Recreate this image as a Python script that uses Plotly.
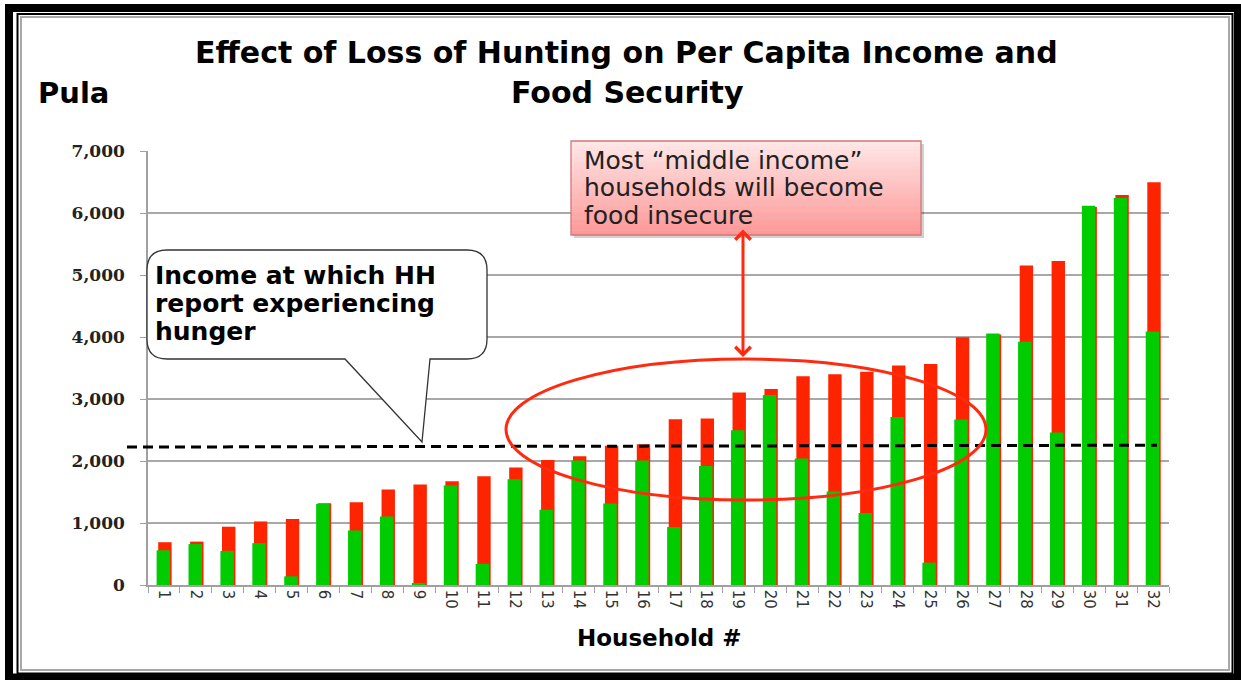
import plotly.graph_objects as go

# ---------------- data ----------------
households = [str(i) for i in range(1, 33)]
income_with_hunting = [690, 700, 940, 1025, 1065, 1320, 1335, 1540, 1620, 1675,
                       1755, 1895, 2015, 2075, 2245, 2270, 2675, 2685, 3105, 3160,
                       3365, 3400, 3440, 3540, 3565, 3995, 4040, 5155, 5225, 6095,
                       6290, 6495]
income_without_hunting = [560, 660, 550, 675, 140, 1305, 880, 1105, 20, 1605,
                          340, 1705, 1215, 2010, 1315, 2010, 935, 1920, 2495, 3065,
                          2040, 1510, 1160, 2710, 360, 2670, 4055, 3925, 2460, 6115,
                          6240, 4090]
y_ticks = [0, 1000, 2000, 3000, 4000, 5000, 6000, 7000]
y_tick_labels = ["0", "1,000", "2,000", "3,000", "4,000", "5,000", "6,000", "7,000"]
hunger_level_left = 2225
hunger_level_right = 2255

# ---------------- geometry helpers (pixels -> paper) ----------------
W, H = 1241, 680
L, R, T, B = 148, 1169, 151, 585


def px(x):
    return (x - L) / (R - L)


def py(y):
    return (B - y) / (B - T)


def P(x, y):
    return f"{px(x):.5f},{py(y):.5f}"


RED = "#FF2400"
GREEN = "#00CC00"

fig = go.Figure()
fig.add_trace(go.Bar(x=households, y=income_with_hunting, marker_color=RED,
                     marker_line_width=0, width=0.42, offset=-0.18,
                     name="With hunting", showlegend=False))
fig.add_trace(go.Bar(x=households, y=income_without_hunting, marker_color=GREEN,
                     marker_line_width=0, width=0.42, offset=-0.23,
                     name="Without hunting", showlegend=False))

shapes = []
annotations = []

# hunger threshold dashed line
shapes.append(dict(type="line", xref="paper", yref="y",
                   x0=px(127), x1=px(1157), y0=hunger_level_left, y1=hunger_level_right,
                   line=dict(color="black", width=3, dash="10px,6px"), layer="above"))

# ellipse
shapes.append(dict(type="circle", xref="paper", yref="paper",
                   x0=px(506), x1=px(986), y0=py(500), y1=py(359),
                   line=dict(color="#FF2A10", width=3), layer="above"))

# speech bubble
bl, br, bt, bb, r = 147, 487, 250, 359, 20
path = (f"M{P(bl + r, bt)} L{P(br - r, bt)} Q{P(br, bt)} {P(br, bt + r)} "
        f"L{P(br, bb - r)} Q{P(br, bb)} {P(br - r, bb)} L{P(430, bb)} L{P(422, 442)} "
        f"L{P(345, bb)} L{P(bl + r, bb)} Q{P(bl, bb)} {P(bl, bb - r)} "
        f"L{P(bl, bt + r)} Q{P(bl, bt)} {P(bl + r, bt)} Z")
shapes.append(dict(type="path", xref="paper", yref="paper", path=path,
                   fillcolor="white", line=dict(color="#333333", width=1.3), layer="above"))

# pink gradient box with shadow
x0b, x1b, y0b, y1b = 571, 921, 141, 235
shapes.append(dict(type="rect", xref="paper", yref="paper",
                   x0=px(x0b + 3), x1=px(x1b + 3), y0=py(y1b + 3), y1=py(y0b + 3),
                   fillcolor="rgba(0,0,0,0.18)", line_width=0, layer="above"))
n = 40
top_c = (255, 232, 232)
bot_c = (255, 150, 150)
h = (y1b - y0b) / n
for i in range(n):
    t = (i + 0.5) / n
    c = tuple(int(round(top_c[k] + (bot_c[k] - top_c[k]) * t)) for k in range(3))
    shapes.append(dict(type="rect", xref="paper", yref="paper",
                       x0=px(x0b), x1=px(x1b), y0=py(y0b + (i + 1) * h + 0.3), y1=py(y0b + i * h),
                       fillcolor=f"rgb{c}", line_width=0, layer="above"))
shapes.append(dict(type="rect", xref="paper", yref="paper",
                   x0=px(x0b), x1=px(x1b), y0=py(y1b), y1=py(y0b),
                   line=dict(color="#D07878", width=1.3), layer="above"))

# frame borders
shapes.append(dict(type="rect", xref="paper", yref="paper",
                   x0=px(9), x1=px(1238), y0=py(677.5), y1=py(8),
                   line=dict(color="black", width=8), layer="above"))
shapes.append(dict(type="rect", xref="paper", yref="paper",
                   x0=px(17.5), x1=px(1232.5), y0=py(673.5), y1=py(14),
                   line=dict(color="black", width=2), layer="above"))
shapes.append(dict(type="rect", xref="paper", yref="paper",
                   x0=px(21), x1=px(1229), y0=py(670), y1=py(17),
                   line=dict(color="#A8A8A8", width=2), layer="above"))

# double arrow
annotations.append(dict(xref="paper", yref="paper", x=px(743), y=py(357),
                        ax=0, ay=-129, axref="pixel", ayref="pixel", text="",
                        showarrow=True, arrowside="end+start", arrowhead=4,
                        startarrowhead=4, arrowsize=1, startarrowsize=1,
                        arrowwidth=3, arrowcolor="#FF2A10"))

FONT = "DejaVu Sans"
# title
annotations.append(dict(xref="paper", yref="paper", x=px(626), y=py(52),
                        text="<b>Effect of Loss of Hunting on Per Capita Income and</b>",
                        showarrow=False, xanchor="center", yanchor="middle",
                        font=dict(family=FONT, size=30, color="black")))
annotations.append(dict(xref="paper", yref="paper", x=px(627), y=py(92),
                        text="<b>Food Security</b>",
                        showarrow=False, xanchor="center", yanchor="middle",
                        font=dict(family=FONT, size=30, color="black")))
annotations.append(dict(xref="paper", yref="paper", x=px(36), y=py(93),
                        text="<b>Pula</b>", showarrow=False, xanchor="left", yanchor="middle",
                        font=dict(family=FONT, size=29, color="black")))
# x axis title
annotations.append(dict(xref="paper", yref="paper", x=px(659), y=py(638),
                        text="<b>Household #</b>", showarrow=False,
                        xanchor="center", yanchor="middle",
                        font=dict(family=FONT, size=23, color="black")))
# bubble text
for i, line in enumerate(["Income at which HH", "report experiencing", "hunger"]):
    annotations.append(dict(xref="paper", yref="paper", x=px(153), y=py(275 + 28 * i),
                            text=f"<b>{line}</b>", showarrow=False,
                            xanchor="left", yanchor="middle",
                            font=dict(family=FONT, size=25, color="black")))
# pink box text
for i, line in enumerate(["Most \u201cmiddle income\u201d", "households will become",
                          "food insecure"]):
    annotations.append(dict(xref="paper", yref="paper", x=px(582), y=py(160 + 27.5 * i),
                            text=line, showarrow=False,
                            xanchor="left", yanchor="middle",
                            font=dict(family=FONT, size=25, color="#222222")))

fig.update_layout(
    width=W, height=H,
    margin=dict(l=L, r=W - R, t=T, b=H - B, pad=0),
    paper_bgcolor="white", plot_bgcolor="white",
    barmode="overlay", bargap=0.5,
    shapes=shapes, annotations=annotations,
    showlegend=False,
)
fig.update_xaxes(type="category", showgrid=False, showline=True, linecolor="#A0A0A0",
                 linewidth=1.5, ticks="outside", tickson="boundaries", ticklen=6,
                 tickcolor="#A0A0A0", tickangle=90,
                 tickfont=dict(family=FONT, size=15, color="#333333"))
fig.update_yaxes(range=[0, 7000], tickvals=y_ticks, ticktext=y_tick_labels,
                 showgrid=True, gridcolor="#A8A8A8", gridwidth=1.5, zeroline=False,
                 showline=True, linecolor="#A0A0A0", linewidth=1.5,
                 ticks="outside", ticklen=6, tickcolor="#A0A0A0",
                 ticklabelstandoff=12,
                 tickfont=dict(family="DejaVu Serif", size=17, color="#222222",
                               weight="bold"))

fig.write_html("out.html", config={"displayModeBar": False},
               post_script="document.body.style.margin='0';document.body.style.overflow='hidden';")
